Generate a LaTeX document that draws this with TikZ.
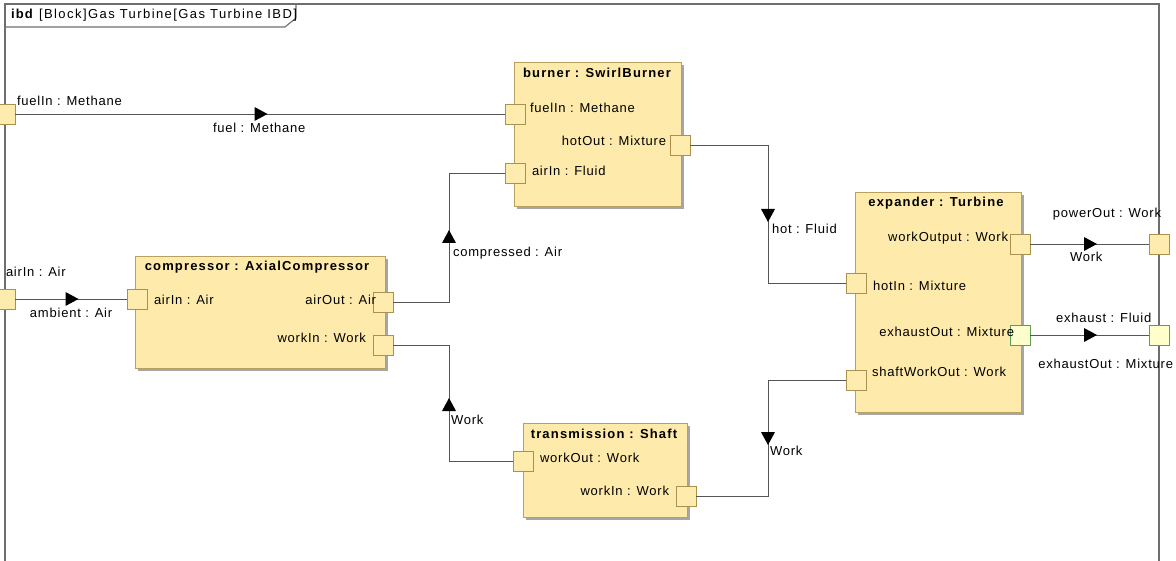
\documentclass[tikz,border=0pt]{standalone}
\usepackage{fontspec}
\setmainfont{Liberation Sans}[LetterSpace=6, BoldFeatures={LetterSpace=9}]
\usetikzlibrary{shadows}

\definecolor{blkfill}{RGB}{254,234,170}
\definecolor{blkline}{RGB}{185,160,95}
\definecolor{portfill}{RGB}{254,236,175}
\definecolor{portline}{RGB}{170,145,80}
\definecolor{gportfill}{RGB}{255,255,204}
\definecolor{gportline}{RGB}{90,160,90}
\definecolor{connc}{RGB}{85,85,85}
\definecolor{framec}{RGB}{110,110,110}

% filled flow arrow on a connector: x, y, direction angle
\newcommand\flowtip[3]{\fill[black, shift={(#1,#2)}, rotate=#3] (7,0) -- (-6,7) -- (-6,-7) -- cycle;}

\begin{document}
\begin{tikzpicture}[x=1pt,y=-1pt,
  every node/.style={inner sep=0pt, outer sep=0pt},
  lbl/.style={font=\fontsize{13}{15}\selectfont},
  ttl/.style={font=\fontsize{13}{15}\selectfont\bfseries},
  blk/.style={draw=blkline, fill=blkfill, line width=0.8pt, anchor=north west,
    general shadow={fill=black!35, shadow xshift=3pt, shadow yshift=-3pt}},
  port/.style={draw=portline, fill=portfill, line width=0.8pt, minimum size=20pt},
  gport/.style={draw=gportline, fill=gportfill, line width=0.8pt, minimum size=20pt},
  conn/.style={draw=connc, line width=0.9pt},
  framel/.style={draw=framec, line width=1.1pt}
]
\useasboundingbox (0,0) rectangle (1176,561);

% diagram frame and header tab
\draw[framel] (5,570) -- (5,4) -- (1159,4) -- (1159,570);
\draw[framel] (5,27) -- (285,27) -- (296,18) -- (296,4);
\node[lbl, anchor=west] (hdr) at (11,15.5) {\addfontfeature{LetterSpace=11}\textbf{ibd} [Block]Gas Turbine[Gas Turbine IBD]};

% parts
\node[blk, minimum width=167pt, minimum height=144pt] (burner) at (514,62) {};
\node[blk, minimum width=250pt, minimum height=112pt] (compressor) at (135,256) {};
\node[blk, minimum width=166pt, minimum height=220pt] (expander) at (855,192) {};
\node[blk, minimum width=164pt, minimum height=94pt] (transmission) at (523,423) {};

\node[ttl] (burnerT) at (597,73) {burner : SwirlBurner};
\node[ttl] (compressorT) at (257,267) {compressor : AxialCompressor};
\node[ttl] (expanderT) at (936,203) {expander : Turbine};
\node[ttl] (transmissionT) at (604,434) {transmission : Shaft};

% boundary ports
\node[port] (frFuel) at (5,114) {};
\node[port] (frAir) at (5,299) {};
\node[port] (frPower) at (1159,244) {};
\node[gport] (frExh) at (1159,335) {};

% part ports
\node[port] (bFuel) at (515,114) {};
\node[port] (bHot) at (680,145.5) {};
\node[port] (bAir) at (515,173.5) {};
\node[port] (cAir) at (137,299) {};
\node[port] (cOut) at (383,302) {};
\node[port] (cWork) at (383,345) {};
\node[port] (eWork) at (1020,244) {};
\node[port] (eHot) at (856,283) {};
\node[gport] (eExh) at (1020,335) {};
\node[port] (eShaft) at (856,380) {};
\node[port] (tOut) at (523,461) {};
\node[port] (tIn) at (686,496) {};

% port labels inside parts
\node[lbl, anchor=west] (lbFuel) at (530,108) {fuelIn : Methane};
\node[lbl, anchor=east] (lbHot) at (666,141) {hotOut : Mixture};
\node[lbl, anchor=west] (lbAir) at (532,171) {airIn : Fluid};
\node[lbl, anchor=west] (lcAir) at (154,300) {airIn : Air};
\node[lbl, anchor=east] (lcOut) at (376,300) {airOut : Air};
\node[lbl, anchor=east] (lcWork) at (366,338) {workIn : Work};
\node[lbl, anchor=east] (leWork) at (1008,238) {workOutput : Work};
\node[lbl, anchor=west] (leHot) at (873,286) {hotIn : Mixture};
\node[lbl, anchor=east] (leExh) at (1014,332) {exhaustOut : Mixture};
\node[lbl, anchor=west] (leShaft) at (872,372) {shaftWorkOut : Work};
\node[lbl, anchor=west] (ltOut) at (540,458) {workOut : Work};
\node[lbl, anchor=east] (ltIn) at (669,491) {workIn : Work};

% boundary port labels
\node[lbl, anchor=west] (lfrFuel) at (17,101) {fuelIn : Methane};
\node[lbl, anchor=west] (lfrAir) at (6,272) {airIn : Air};
\node[lbl, anchor=east] (lfrPower) at (1161,214) {powerOut : Work};
\node[lbl, anchor=east] (lfrExh) at (1173,364) {exhaustOut : Mixture};

% bend points
\coordinate (airX) at (449,0);
\coordinate (hotX) at (768,0);

% connectors
\draw[conn] (frFuel.east) -- (bFuel.west);
\draw[conn] (frAir.east) -- (cAir.west);
\draw[conn] (cOut.east) -- (cOut.east -| airX) -- (airX |- bAir.west) -- (bAir.west);
\draw[conn] (cWork.east) -- (cWork.east -| airX) -- (airX |- tOut.west) -- (tOut.west);
\draw[conn] (bHot.east) -- (bHot.east -| hotX) -- (hotX |- eHot.west) -- (eHot.west);
\draw[conn] (tIn.east) -- (tIn.east -| hotX) -- (hotX |- eShaft.west) -- (eShaft.west);
\draw[conn] (eWork.east) -- (frPower.west);
\draw[conn] (eExh.east) -- (frExh.west);

% flow directions
\flowtip{260.5}{114}{0}
\flowtip{71.5}{299}{0}
\flowtip{449}{237}{90}
\flowtip{449}{405}{90}
\flowtip{768}{215}{-90}
\flowtip{768}{438}{-90}
\flowtip{1090}{244}{0}
\flowtip{1090}{335}{0}

% connector labels
\node[lbl, anchor=west] (cnFuel) at (213,128) {fuel : Methane};
\node[lbl, anchor=west] (cnAmb) at (30,313) {ambient : Air};
\node[lbl, anchor=west] (cnComp) at (453,253) {compressed : Air};
\node[lbl, anchor=west] (cnWorkL) at (451,420) {Work};
\node[lbl, anchor=west] (cnHot) at (772,229) {hot : Fluid};
\node[lbl, anchor=west] (cnWorkR) at (770,451) {Work};
\node[lbl, anchor=west] (cnPower) at (1070,257) {Work};
\node[lbl, anchor=west] (cnExh) at (1056,318) {exhaust : Fluid};
\end{tikzpicture}
\end{document}
